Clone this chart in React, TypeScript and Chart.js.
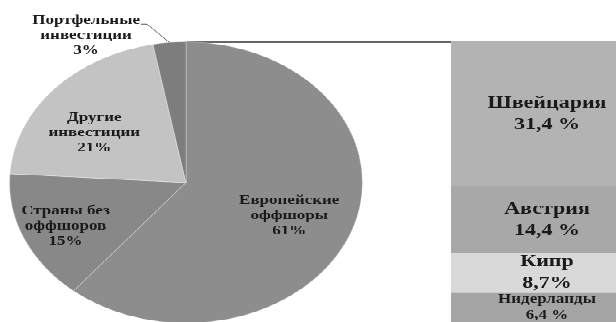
import React, { useEffect, useRef } from 'react';
import { Chart, registerables } from 'chart.js';

Chart.register(...registerables);

// ---- data ----
const pieCategories: string[][] = [
  ['Европейские', 'оффшоры'],
  ['Страны без', 'оффшоров'],
  ['Другие', 'инвестиции'],
  ['Портфельные', 'инвестиции'],
];
const pieValues: number[] = [61, 15, 21, 3];
const pieValueLabels: string[] = ['61%', '15%', '21%', '3%'];

const barCategories: string[] = ['Швейцария', 'Австрия', 'Кипр', 'Нидерланды'];
const barValues: number[] = [31.4, 14.4, 8.7, 6.4];
const barValueLabels: string[] = ['31,4 %', '14,4 %', '8,7%', '6,4 %'];

// ---- style ----
const pieColors = ['#8d8d8d', '#888888', '#c3c3c3', '#7d7d7d'];
const barColors = ['#b3b3b3', '#a8a8a8', '#d9d9d9', '#a5a5a5'];
const labelRadius = [0.63, 0.75, 0.63, 1.19];
const labelAngleShift = [2, -1, -7, -23];
const TEXT = '#1a1a1a';
const FONT = '"Liberation Serif", "Times New Roman", serif';

const SY = 0.797;
const W = 616;
const H = Math.ceil(322 / SY);
const PIE_H = 406;
const BAR_LEFT = 451;
const BAR_TOP = 52;
const BAR_W = 192;

export default function App() {
  const pieRef = useRef<HTMLCanvasElement | null>(null);
  const barRef = useRef<HTMLCanvasElement | null>(null);

  useEffect(() => {
    const pieCanvas = pieRef.current!;
    const barCanvas = barRef.current!;

    const piePlugin = {
      id: 'pieDecor',
      beforeDatasetsDraw(chart: any) {
        const arc = chart.getDatasetMeta(0).data[0];
        if (!arc) return;
        const ctx = chart.ctx;
        const top = arc.y - arc.outerRadius;
        ctx.save();
        ctx.strokeStyle = '#333333';
        ctx.lineWidth = 1.3;
        ctx.beginPath();
        ctx.moveTo(arc.x, top + 0.5);
        ctx.lineTo(BAR_LEFT, top + 0.5);
        ctx.stroke();
        ctx.restore();
      },
      afterDatasetsDraw(chart: any) {
        const ctx = chart.ctx;
        const meta = chart.getDatasetMeta(0);
        ctx.save();
        ctx.fillStyle = TEXT;
        ctx.font = `bold 17px ${FONT}`;
        ctx.textAlign = 'center';
        ctx.textBaseline = 'middle';
        const lh = 19;
        meta.data.forEach((arc: any, i: number) => {
          const mid = (arc.startAngle + arc.endAngle) / 2;
          const a = mid + (labelAngleShift[i] * Math.PI) / 180;
          const r = arc.outerRadius * labelRadius[i];
          const px = arc.x + Math.cos(a) * r;
          const py = arc.y + Math.sin(a) * r;
          const lines = [...pieCategories[i], pieValueLabels[i]];
          const y0 = py - ((lines.length - 1) * lh) / 2;
          lines.forEach((t, k) => ctx.fillText(t, px, y0 + k * lh));
          if (labelRadius[i] > 1) {
            const w = ctx.measureText(lines[0]).width;
            const sx = px + w / 2 + 1;
            const sy = y0 + 5;
            const ex = arc.x + Math.cos(mid) * arc.outerRadius;
            const ey = arc.y + Math.sin(mid) * arc.outerRadius;
            ctx.strokeStyle = '#555555';
            ctx.lineWidth = 1;
            ctx.beginPath();
            ctx.moveTo(sx, sy);
            ctx.lineTo(sx + 6, sy);
            ctx.lineTo(ex, ey);
            ctx.stroke();
          }
        });
        ctx.restore();
      },
    };

    const pie = new Chart(pieCanvas, {
      type: 'pie',
      data: {
        labels: pieCategories.map((l) => l.join(' ')),
        datasets: [
          {
            data: pieValues,
            backgroundColor: pieColors,
            borderColor: 'rgba(255,255,255,0.3)',
            borderWidth: 1,
          },
        ],
      },
      options: {
        responsive: false,
        animation: false,
        devicePixelRatio: 1,
        rotation: 0,
        layout: { padding: { left: 9, right: W - 9 - 354, top: 52, bottom: 0 } },
        plugins: { legend: { display: false }, tooltip: { enabled: false } },
        events: [],
      },
      plugins: [piePlugin],
    } as any);

    const barPlugin = {
      id: 'barLabels',
      afterDatasetsDraw(chart: any) {
        const ctx = chart.ctx;
        ctx.save();
        ctx.fillStyle = TEXT;
        ctx.textAlign = 'center';
        ctx.textBaseline = 'middle';
        chart.data.datasets.forEach((_ds: any, i: number) => {
          const el = chart.getDatasetMeta(i).data[0];
          if (!el) return;
          const small = barCategories[i].length > 9;
          const fs = small ? 17 : 22;
          const lh = small ? 20 : 27;
          ctx.font = `bold ${fs}px ${FONT}`;
          const cy = (el.y + el.base) / 2;
          const lines = [barCategories[i], barValueLabels[i]];
          const y0 = cy - ((lines.length - 1) * lh) / 2;
          lines.forEach((t, k) => ctx.fillText(t, el.x, y0 + k * lh));
        });
        ctx.restore();
      },
    };

    const bar = new Chart(barCanvas, {
      type: 'bar',
      data: {
        labels: [''],
        datasets: barCategories.map((c, i) => ({
          label: c,
          data: [barValues[i]],
          backgroundColor: barColors[i],
          borderWidth: 0,
          barPercentage: 1,
          categoryPercentage: 1,
        })),
      },
      options: {
        responsive: false,
        animation: false,
        devicePixelRatio: 1,
        layout: { padding: 0 },
        scales: {
          x: { stacked: true, display: false },
          y: { stacked: true, display: false, reverse: true, min: 0, max: pieValues[0] },
        },
        plugins: { legend: { display: false }, tooltip: { enabled: false } },
        events: [],
      },
      plugins: [barPlugin],
    } as any);

    return () => {
      pie.destroy();
      bar.destroy();
    };
  }, []);

  return (
    <div
      style={{
        position: 'fixed',
        left: 0,
        top: 0,
        width: W,
        height: 322,
        overflow: 'hidden',
        background: '#ffffff',
      }}
    >
      <div
        style={{
          position: 'absolute',
          left: 0,
          top: 0,
          width: W,
          height: H,
          transform: `scaleY(${SY})`,
          transformOrigin: '0 0',
          overflow: 'hidden',
        }}
      >
        <canvas
          ref={pieRef}
          width={W}
          height={PIE_H}
          style={{ position: 'absolute', left: 0, top: 0, width: W, height: PIE_H }}
        />
        <canvas
          ref={barRef}
          width={BAR_W}
          height={H - BAR_TOP}
          style={{ position: 'absolute', left: BAR_LEFT, top: BAR_TOP, width: BAR_W, height: H - BAR_TOP }}
        />
      </div>
    </div>
  );
}
